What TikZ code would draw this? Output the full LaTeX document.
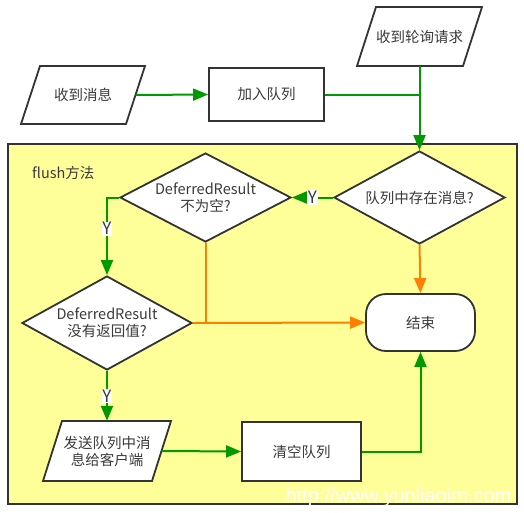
\documentclass[tikz,border=0pt]{standalone}
\usepackage{fontspec}
\setmainfont{Noto Sans CJK SC}
\newfontfamily\wmfont{Liberation Sans}
\usetikzlibrary{arrows.meta,shapes.geometric}
\definecolor{gcol}{HTML}{009900}
\definecolor{ocol}{HTML}{FF8000}
\definecolor{ybg}{HTML}{FFFF99}
\definecolor{bord}{HTML}{333333}
\definecolor{txt}{HTML}{3A3A3A}
\begin{document}
\begin{tikzpicture}[x=1pt,y=-1pt,
  font=\fontsize{14.5}{17}\selectfont,
  shp/.style={draw=bord, line width=1.8pt, fill=white},
  lbl/.style={inner sep=0pt, align=center, text=txt},
  proc/.style={shp, rectangle, inner sep=0pt, align=center, text=txt},
  dec/.style={shp, diamond, aspect=1.86, inner sep=0pt, align=center, text=txt},
  term/.style={shp, rectangle, rounded corners=20pt, inner sep=0pt, text=txt},
  gcon/.style={draw=gcol, line width=2pt},
  garr/.style={gcon, -{Triangle[length=15pt,width=12pt]}},
  ocon/.style={draw=ocol, line width=2pt},
  oarr/.style={ocon, -{Triangle[length=15pt,width=12pt]}},
  ylab/.style={fill=white, inner sep=0.8pt, text=txt, font=\fontsize{17}{17}\selectfont}]
\useasboundingbox (0,0) rectangle (524,512);

% container
\draw[draw=bord, line width=1.8pt, fill=ybg] (8,144) rectangle (517,504);
\node[lbl, anchor=west] (title) at (32,173) {flush方法};

% top row
\draw[shp] (21,124) -- (40,66) -- (145,66) -- (126,124) -- cycle;
\node[lbl, minimum width=105pt, minimum height=58pt] (m1) at (83,95) {收到消息};
\node[proc, minimum width=115pt, minimum height=53pt] (q1) at (266.5,94.5) {加入队列};
\draw[shp] (357,66) -- (376,7) -- (482,7) -- (463,66) -- cycle;
\node[lbl, minimum width=106pt, minimum height=59pt] (poll) at (419.5,36.5) {收到轮询请求};

% inside
\node[dec, minimum width=171pt, minimum height=93pt] (d1) at (419.5,197.5) {队列中存在消息?};
\node[dec, minimum width=171pt, minimum height=89pt] (d2) at (205.5,197.5) {DeferredResult\\不为空?};
\node[dec, minimum width=170pt, minimum height=94pt] (d3) at (107,323) {DeferredResult\\没有返回值?};
\node[term, minimum width=109pt, minimum height=57pt] (end) at (420.5,322.5) {结束};
\draw[shp] (43,481) -- (62,421) -- (171,421) -- (152,481) -- cycle;
\node[lbl, minimum width=109pt, minimum height=60pt] (s1) at (107,451) {发送队列中消\\息给客户端};
\node[proc, minimum width=119pt, minimum height=59pt] (c1) at (301.5,451.5) {清空队列};

% connectors
\draw[garr] (m1.east) -- (q1.west);
\draw[gcon] (q1.east) -- (q1.east -| poll.south);
\draw[garr] (poll.south) -- (d1.north);
\draw[garr] (d1.west) -- node[ylab] {Y} (d2.east);
\draw[garr] (d2.west) -| node[ylab, pos=0.7] {Y} (d3.north);
\draw[garr] (d3.south) -- node[ylab, pos=0.5] {Y} (s1.north);
\draw[garr] (s1.east) -- (c1.west);
\draw[garr] (c1.east) -| (end.south);
\draw[oarr] (d1.south) -- (end.north);
\draw[ocon] (d2.south) -- (d2.south |- end.west);
\draw[oarr] (d3.east) -- (end.west);

% watermark
\node[text=white, font=\wmfont\fontsize{20}{20}\selectfont, inner sep=0pt] (wm) at (398.5,497) {http://www.yunliaoim.com};
\end{tikzpicture}
\end{document}
